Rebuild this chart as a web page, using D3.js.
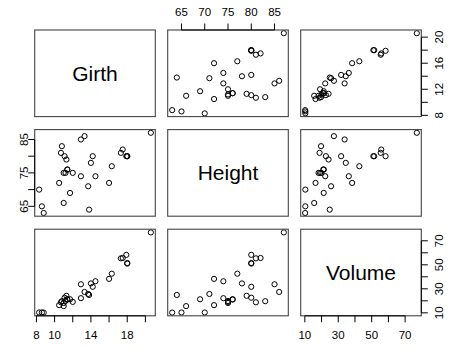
<!DOCTYPE html>
<html><head><meta charset="utf-8">
<script src="https://cdn.jsdelivr.net/npm/d3@7"></script>
<style>body{margin:0;background:#fff}svg{display:block}text{font-family:"Liberation Sans",Arial,sans-serif}</style>
</head><body><svg id="c" width="459" height="348"></svg>
<script>
const varNames = ["Girth","Height","Volume"];
const girth  = [8.3,8.6,8.8,10.5,10.7,10.8,11.0,11.0,11.1,11.2,11.3,11.4,11.4,11.7,12.0,12.9,12.9,13.3,13.7,13.8,14.0,14.2,14.5,16.0,16.3,17.3,17.5,17.9,18.0,18.0,20.6];
const height = [70,65,63,72,81,83,66,75,80,75,79,76,76,69,75,74,85,86,71,64,78,80,74,72,77,81,82,80,80,80,87];
const volume = [10.3,10.3,10.2,16.4,18.8,19.7,15.6,18.2,22.6,19.9,24.2,21.0,21.4,21.3,19.1,22.2,33.8,27.4,25.7,24.9,34.5,31.7,36.3,38.3,42.6,55.4,55.7,58.3,51.5,51.0,77.0];
const girthTicks = [8,10,12,14,16,18,20];
const girthBottomLabels = [8,10,14,18];
const girthRightLabels = [8,12,16,20];
const heightTicks = [65,70,75,80,85];
const heightTopLabels = [65,70,75,80,85];
const heightLeftLabels = [65,75,85];
const volumeTicks = [10,20,30,40,50,60,70];
const volumeLabels = [10,30,50,70];

const data = [girth, height, volume];

const svg = d3.select("#c");
const px0 = 34.7, pw = 120.6, pstep = 133;
const py0 = 30, ph = 86.6, pstep_y = 99.6;

function ext(a){const mn=d3.min(a), mx=d3.max(a), d=(mx-mn)*0.04; return [mn-d, mx+d];}
const xs = data.map((a,j)=>d3.scaleLinear().domain(ext(a)).range([px0+j*pstep, px0+j*pstep+pw]));
const ys = data.map((a,i)=>d3.scaleLinear().domain(ext(a)).range([py0+i*pstep_y+ph, py0+i*pstep_y]));

for(let i=0;i<3;i++){
  for(let j=0;j<3;j++){
    const x0 = px0+j*pstep, y0 = py0+i*pstep_y;
    const g = svg.append("g");
    if(i===j){
      g.append("text").attr("x",x0+pw/2).attr("y",y0+ph/2+7.5).attr("text-anchor","middle")
        .attr("font-size",21).attr("fill","#000").text(varNames[i]);
    } else {
      const pts = d3.range(girth.length).map(k=>[data[j][k], data[i][k]]);
      g.selectAll("circle").data(pts).join("circle")
        .attr("cx",d=>xs[j](d[0])).attr("cy",d=>ys[i](d[1])).attr("r",2.6)
        .attr("fill","none").attr("stroke","#000").attr("stroke-width",1);
    }
    g.append("rect").attr("x",x0).attr("y",y0).attr("width",pw).attr("height",ph)
      .attr("fill","none").attr("stroke","#444").attr("stroke-width",1.1);
  }
}

function drawAxis(side, scale, tv, labels, pos){
  const g = svg.append("g");
  const tl = 6.5;
  const r = tv.map(v=>scale(v));
  if(side==="top"||side==="bottom"){
    const dir = side==="top"?-1:1;
    g.append("line").attr("x1",r[0]).attr("x2",r[r.length-1]).attr("y1",pos).attr("y2",pos).attr("stroke","#000");
    tv.forEach(v=>{
      const x=scale(v);
      g.append("line").attr("x1",x).attr("x2",x).attr("y1",pos).attr("y2",pos+dir*tl).attr("stroke","#000");
      if(labels.includes(v)) g.append("text").attr("x",x).attr("y",side==="top"?pos-14:pos+23)
        .attr("text-anchor","middle").attr("font-size",11.5).text(v);
    });
  } else {
    const dir = side==="left"?-1:1;
    g.append("line").attr("y1",r[0]).attr("y2",r[r.length-1]).attr("x1",pos).attr("x2",pos).attr("stroke","#000");
    tv.forEach(v=>{
      const y=scale(v);
      g.append("line").attr("y1",y).attr("y2",y).attr("x1",pos).attr("x2",pos+dir*tl).attr("stroke","#000");
      if(labels.includes(v)){
        const tx = side==="left"?pos-6.5:pos+22;
        g.append("text").attr("transform",`translate(${tx},${y}) rotate(-90)`)
          .attr("text-anchor","middle").attr("font-size",11.5).text(v);
      }
    });
  }
}
const topY = py0, botY = py0+2*pstep_y+ph, leftX = px0, rightX = px0+2*pstep+pw;
drawAxis("top", xs[1], heightTicks, heightTopLabels, topY);
drawAxis("bottom", xs[0], girthTicks, girthBottomLabels, botY);
drawAxis("bottom", xs[2], volumeTicks, volumeLabels, botY);
drawAxis("left", ys[1], heightTicks, heightLeftLabels, leftX);
drawAxis("right", ys[0], girthTicks, girthRightLabels, rightX);
drawAxis("right", ys[2], volumeTicks, volumeLabels, rightX);
</script></body></html>
